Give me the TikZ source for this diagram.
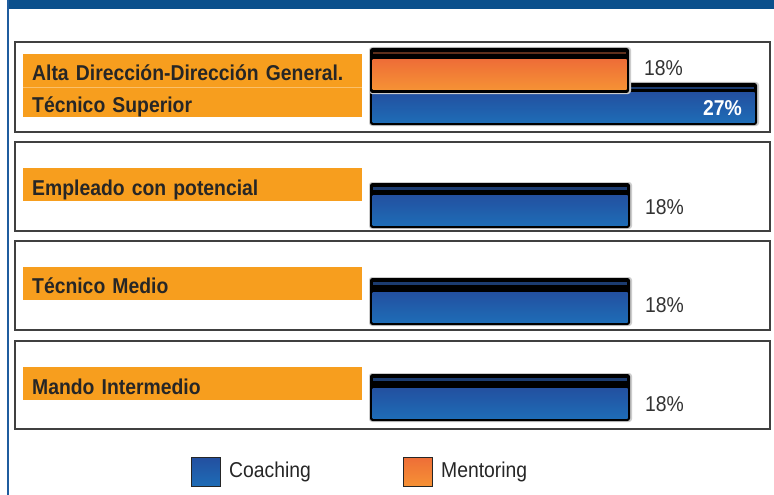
\documentclass[tikz,border=0pt]{standalone}
\usepackage{fontspec}
\setmainfont{Liberation Sans}[FakeStretch=0.9,WordSpace=0.8]
\usetikzlibrary{positioning}
\definecolor{bandblue}{HTML}{0B508C}
\definecolor{edgeblue}{HTML}{1F5C9E}
\definecolor{labelorange}{HTML}{F79E1E}
\definecolor{labelline}{HTML}{FBC06A}
\definecolor{barblueA}{HTML}{2350A0}
\definecolor{barblueB}{HTML}{1E6CB6}
\definecolor{barorangeA}{HTML}{EE6E37}
\definecolor{barorangeB}{HTML}{F69235}
\definecolor{barnavy}{HTML}{1C3C70}
\definecolor{barbrown}{HTML}{5E2F1C}
\definecolor{textgray}{HTML}{262626}
\definecolor{pctgray}{HTML}{333333}
\definecolor{framegray}{HTML}{404040}
\tikzstyle{panel} = [draw=framegray,line width=1.3pt]
\tikzstyle{lbl} = [fill=labelorange,anchor=west,inner xsep=9pt,inner ysep=0pt,text width=321pt,align=left,text=textgray,font=\bfseries\fontsize{21.5}{24}\selectfont]
\tikzstyle{pct} = [inner sep=0pt,text=pctgray,font=\fontsize{21.5}{24}\selectfont]
\tikzstyle{swatch} = [draw=black!85,line width=1pt,minimum size=29pt,inner sep=0pt]
\tikzstyle{key} = [inner sep=0pt,text=textgray,font=\fontsize{21.5}{24}\selectfont]
% bar: x1, x2, top, body top, body bottom, body colours, stripe colour
\newcommand{\drawbar}[8]{%
	\fill[black!20,rounded corners=3pt] (#1-2,#3-1) rectangle (#2+3,#5+4);
	\fill[black,rounded corners=2.5pt] (#1-1,#3) rectangle (#2+1,#5+3);
	\fill[#8] (#1+1.5,#3+4) rectangle (#2-2,#3+6.5);
	\shade[top color=#6,bottom color=#7] (#1+1.5,#4) rectangle (#2-1.5,#5);
}

\begin{document}
\begin{tikzpicture}[x=1pt,y=-1pt]
	\useasboundingbox (0,0) rectangle (774,495);
	\fill[white] (0,0) rectangle (774,495);
	% frame of the page
	\fill[bandblue] (7,0) rectangle (774,9);
	\fill[edgeblue] (6.5,0) rectangle (8.5,495);
	\foreach \t/\b in {42/132,142/231,241/330,341/429} {
		\draw[panel] (15,\t) rectangle (770,\b);
	}

	% first panel: two rows
	\node[lbl,text height=27pt,text depth=6pt] (alta) at (23,70.5) {Alta Dirección-Dirección General.};
	\node[lbl,text height=25pt,text depth=5pt] (tsup) at (23,102) {Técnico Superior};
	\draw[labelline,line width=0.8pt] (alta.south west) -- (alta.south east);
	\drawbar{371}{756}{83}{93}{122}{barblueA}{barblueB}{barnavy}
	\drawbar{371}{628}{48}{60}{90}{barorangeA}{barorangeB}{barbrown}
	\coordinate (endmen) at (628,68);
	\node[pct,anchor=west,right=16pt of endmen] (pmen) {18\%};
	\node[pct,anchor=east,text=white,font=\bfseries\fontsize{21.5}{24}\selectfont] (pcoa) at (742,108) {27\%};

	% other panels: coaching only
	\foreach \n/\txt/\ly/\bt/\bbt/\bbb/\py in {%
		emp/Empleado con potencial/184.5/183/195/225/207,%
		med/Técnico Medio/283/278/292/322/305,%
		man/Mando Intermedio/383.5/374/388/418/404} {
		\node[lbl,text height=27pt,text depth=6pt] (l\n) at (23,\ly) {\txt};
		\drawbar{371}{629}{\bt}{\bbt}{\bbb}{barblueA}{barblueB}{barnavy}
		\coordinate (e\n) at (629,\py);
		\node[pct,anchor=west,right=16pt of e\n] (p\n) {18\%};
	}

	% legend
	\node[swatch,top color=barblueA,bottom color=barblueB] (kcoa) at (206,472) {};
	\node[key,right=8pt of kcoa] (tcoa) {Coaching};
	\node[swatch,top color=barorangeA,bottom color=barorangeB] (kmen) at (418,472) {};
	\node[key,right=8pt of kmen] (tmen) {Mentoring};
\end{tikzpicture}
\end{document}
